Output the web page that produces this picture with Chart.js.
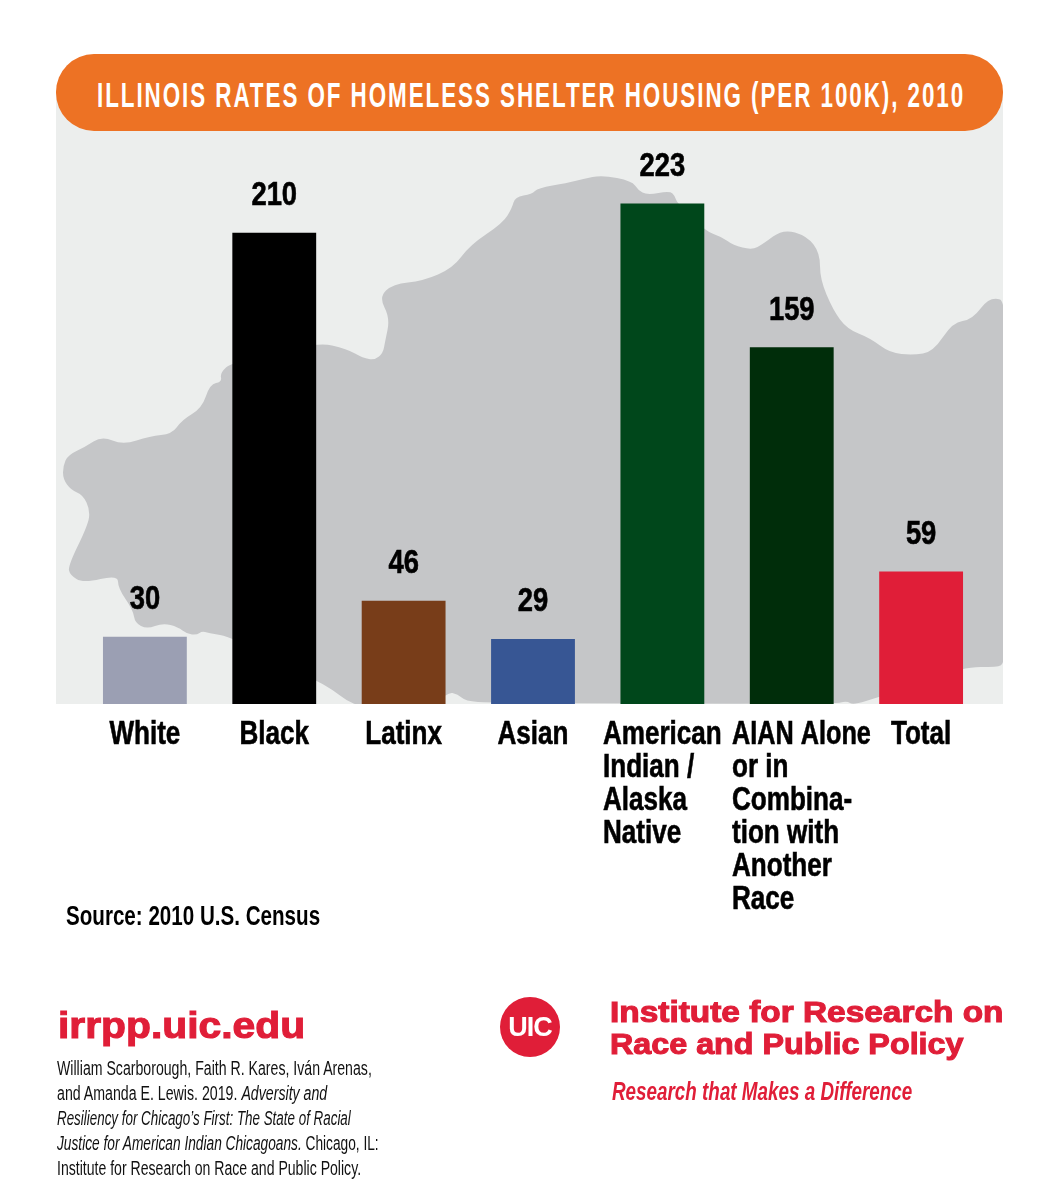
<!DOCTYPE html>
<html>
<head>
<meta charset="utf-8">
<script src="https://cdn.jsdelivr.net/npm/chart.js@4"></script>
<style>
    html, body { margin: 0; padding: 0; background: #fff; }
    #page { position: relative; width: 1056px; height: 1200px; overflow: hidden; }
    #page canvas { position: absolute; left: 0; top: 0; }
    .txt { position: absolute; white-space: nowrap; transform-origin: 0 0; font-family: "Liberation Sans", sans-serif; }
    .wide { font-weight: bold; color: #e01e38; -webkit-text-stroke: 1.1px #e01e38; }
    .cite { left: 57px; font-size: 20px; line-height: 25px; color: #111; }
    #pill { position: absolute; left: 56px; top: 54px; width: 947px; height: 77px; border-radius: 38px; background: #ed7224; }
    #title { left: 97px; top: 73px; font-size: 35px; line-height: 44px; font-weight: bold; color: #fff; letter-spacing: 3px; }
    #source { left: 66px; top: 900px; font-size: 27px; line-height: 32px; font-weight: bold; color: #000; }
    #site { left: 58px; top: 1005px; font-size: 37px; line-height: 42px; }
    #logo { position: absolute; left: 500px; top: 997px; width: 60px; height: 60px; border-radius: 50%; background: #e01e38; color: #fff; font: bold 27px/60px "Liberation Sans", sans-serif; text-align: center; letter-spacing: -1px; }
    #org1 { left: 610px; top: 994px; font-size: 30px; line-height: 36px; }
    #org2 { left: 610px; top: 1026px; font-size: 30px; line-height: 36px; }
    #tagline { left: 612px; top: 1076px; font-size: 25px; line-height: 30px; font-weight: bold; font-style: italic; color: #e01e38; }
</style>
</head>
<body>
<div id="page">
    <canvas id="chart" width="1056" height="1200"></canvas>
    <div id="pill"></div>
    <div id="title" class="txt" data-width="868">ILLINOIS RATES OF HOMELESS SHELTER HOUSING (PER 100K), 2010</div>
    <div id="source" class="txt" data-width="254">Source: 2010 U.S. Census</div>
    <div id="site" class="txt wide" data-width="247">irrpp.uic.edu</div>
    <div class="txt cite" style="top:1056px" data-width="315">William Scarborough, Faith R. Kares, Iván Arenas,</div>
    <div class="txt cite" style="top:1081px" data-width="270">and Amanda E. Lewis. 2019. <i>Adversity and</i></div>
    <div class="txt cite" style="top:1106px" data-width="294"><i>Resiliency for Chicago’s First: The State of Racial</i></div>
    <div class="txt cite" style="top:1131px" data-width="322"><i>Justice for American Indian Chicagoans.</i> Chicago, IL:</div>
    <div class="txt cite" style="top:1156px" data-width="304">Institute for Research on Race and Public Policy.</div>
    <div id="logo">UIC</div>
    <div id="org1" class="txt wide" data-width="393">Institute for Research on</div>
    <div id="org2" class="txt wide" data-width="353">Race and Public Policy</div>
    <div id="tagline" class="txt" data-width="300">Research that Makes a Difference</div>
</div>
<script>
const CATEGORIES = ['White', 'Black', 'Latinx', 'Asian', 'American Indian / Alaska Native', 'AIAN Alone or in Combination with Another Race', 'Total'];
const CATEGORY_LINES = [
    ['White'],
    ['Black'],
    ['Latinx'],
    ['Asian'],
    ['American', 'Indian /', 'Alaska', 'Native'],
    ['AIAN Alone', 'or in', 'Combina-', 'tion with', 'Another', 'Race'],
    ['Total'],
];
const RATES = [30, 210, 46, 29, 223, 159, 59];
const BAR_COLORS = ['#9b9fb3', '#000000', '#783d19', '#375694', '#00471b', '#002d0a', '#e01e38'];

// Illinois silhouette behind the bars, traced in page pixels (decoration, not data)
const MAP_OUTLINE = [
    [63, 479], [63, 466], [68, 455], [85, 447], [102, 436], [123, 445], [150, 436], [172, 434], [182, 420],
    [202, 408], [210, 384], [222, 382], [220, 373], [232, 362], [317, 342], [347, 349], [363, 358], [375, 360],
    [383, 353], [385, 342], [390, 318], [379, 297], [393, 284], [423, 281], [453, 268], [470, 245], [503, 223],
    [512, 208], [515, 197], [532, 194], [538, 188], [567, 183], [583, 179], [602, 175], [632, 181], [638, 190],
    [647, 195], [670, 191], [675, 196], [677, 203], [705, 231], [722, 237], [733, 245], [752, 250], [763, 244],
    [783, 229], [807, 236], [820, 253], [820, 279], [833, 310], [847, 329], [870, 338], [890, 353], [913, 355],
    [933, 352], [953, 322], [972, 320], [990, 296], [1010, 303], [1010, 640], [1004, 655], [1003, 664], [998, 667],
    [963, 667], [900, 690], [879, 697], [853, 705], [847, 701], [834, 704], [491, 703], [465, 701], [458, 694],
    [447, 692], [420, 720], [360, 706], [347, 701], [333, 690], [317, 681], [232, 637], [208, 633], [202, 631],
    [197, 635], [187, 634], [178, 627], [163, 623], [147, 629], [135, 623], [133, 610], [118, 588], [118, 575],
    [83, 583], [70, 575], [68, 566], [88, 525], [90, 510], [83, 495], [71, 490],
];

const TEXT_FONT = '"Liberation Sans", sans-serif';
const VALUE_SQUEEZE = 0.83;
const LABEL_SQUEEZE = 0.79;

// no condensed face is installed, so the text is squeezed sideways to its measured width
document.querySelectorAll('[data-width]').forEach((el) => {
    el.style.transform = `scaleX(${el.dataset.width / el.offsetWidth})`;
});

function squeezedText(ctx, text, x, y, squeeze) {
    ctx.save();
    ctx.translate(x, y);
    ctx.scale(squeeze, 1);
    ctx.fillText(text, 0, 0);
    ctx.strokeText(text, 0, 0);
    ctx.restore();
}

const backdrop = {
    id: 'backdrop',
    beforeDraw(chart) {
        const ctx = chart.ctx;
        ctx.save();
        ctx.fillStyle = '#eceeed';
        ctx.beginPath();
        ctx.rect(56, 90, 947, 614);
        ctx.fill();
        ctx.clip();
        ctx.fillStyle = '#c5c6c8';
        ctx.beginPath();
        const n = MAP_OUTLINE.length;
        const mid = (a, b) => [(a[0] + b[0]) / 2, (a[1] + b[1]) / 2];
        const start = mid(MAP_OUTLINE[n - 1], MAP_OUTLINE[0]);
        ctx.moveTo(start[0], start[1]);
        MAP_OUTLINE.forEach((p, i) => {
            const m = mid(p, MAP_OUTLINE[(i + 1) % n]);
            ctx.quadraticCurveTo(p[0], p[1], m[0], m[1]);
        });
        ctx.closePath();
        ctx.fill();
        ctx.restore();
    },
};

const barText = {
    id: 'barText',
    afterDatasetsDraw(chart) {
        const ctx = chart.ctx;
        const xScale = chart.scales.x;
        const bars = chart.getDatasetMeta(0).data;
        ctx.save();
        ctx.fillStyle = '#000';
        ctx.strokeStyle = '#000';
        ctx.lineWidth = 0.6;
        ctx.font = 'bold 33px ' + TEXT_FONT;
        ctx.textBaseline = 'alphabetic';
        ctx.textAlign = 'center';
        bars.forEach((bar, i) => squeezedText(ctx, String(RATES[i]), bar.x, bar.y - 27.5, VALUE_SQUEEZE));
        // category labels: each block is left aligned and centred under its bar
        ctx.textAlign = 'left';
        CATEGORY_LINES.forEach((lines, i) => {
            const width = Math.max(...lines.map((l) => ctx.measureText(l).width)) * LABEL_SQUEEZE;
            let left = xScale.getPixelForValue(i) - width / 2;
            if (i === 5) left = 732; // longest label sits left of centre to clear "Total"
            lines.forEach((line, j) => {
                const squeeze = line === 'AIAN Alone' ? 0.765 : LABEL_SQUEEZE;
                squeezedText(ctx, line, left, 744 + j * 33, squeeze);
            });
        });
        ctx.restore();
    },
};

new Chart(document.getElementById('chart'), {
    type: 'bar',
    data: {
        labels: CATEGORIES,
        datasets: [{
            data: RATES,
            backgroundColor: BAR_COLORS,
            barPercentage: 0.648,
            categoryPercentage: 1,
            borderWidth: 0,
        }],
    },
    options: {
        responsive: false,
        animation: false,
        devicePixelRatio: 1,
        layout: { padding: { left: 80.2, right: 70.2, top: 143, bottom: 496 } },
        plugins: { legend: { display: false }, tooltip: { enabled: false }, title: { display: false } },
        scales: {
            x: { display: false },
            y: { display: false, min: 0, max: 250 },
        },
    },
    plugins: [backdrop, barText],
});
</script>
</body>
</html>
